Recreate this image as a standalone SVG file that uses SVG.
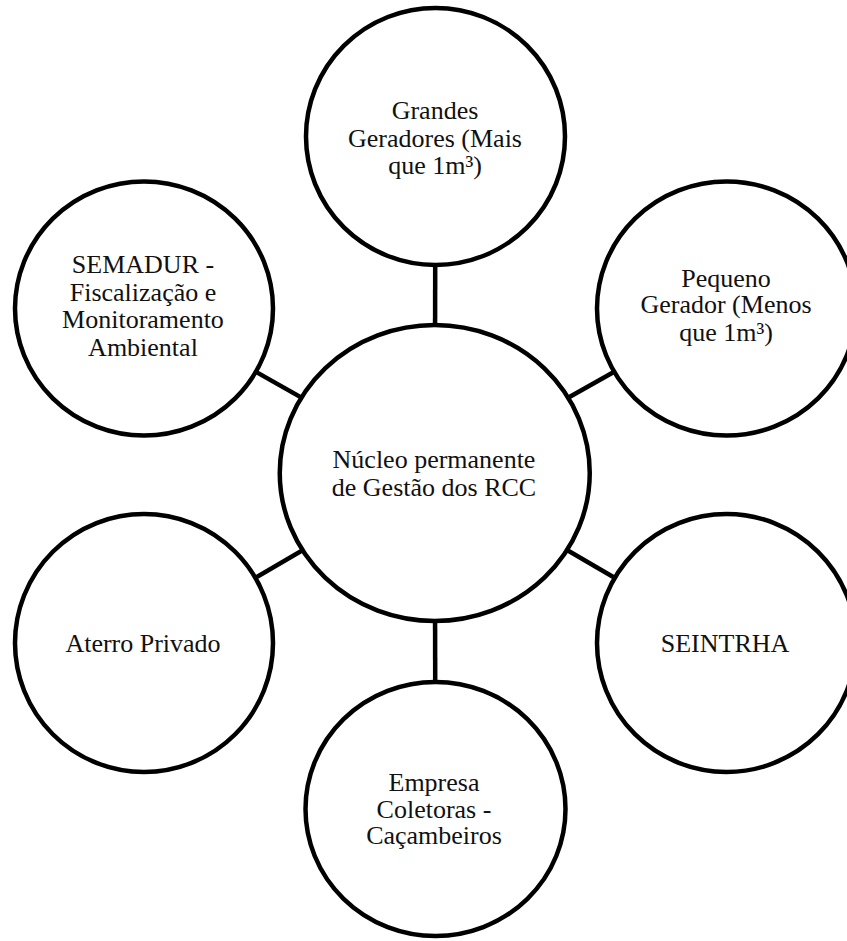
<svg xmlns="http://www.w3.org/2000/svg" width="847" height="941" viewBox="0 0 847 941">
  <style>
    .link { stroke: #000; stroke-width: 4.5; fill: none; }
    .node { fill: #fff; stroke: #000; stroke-width: 4.5; }
    .label { font-family: "Liberation Serif", "Times New Roman", serif; font-size: 26px; fill: #111; text-anchor: middle; }
  </style>
  <rect width="847" height="941" fill="#fff"/>

  <!-- spokes from the hub to each satellite (drawn center to center, hidden under node fills) -->
  <g id="connectors">
    <line class="link" x1="434.75" y1="473" x2="435.5" y2="136.5"/>
    <line class="link" x1="434.75" y1="473" x2="726.5" y2="308.5"/>
    <line class="link" x1="434.75" y1="473" x2="726.5" y2="643"/>
    <line class="link" x1="434.75" y1="473" x2="435.5" y2="809"/>
    <line class="link" x1="434.75" y1="473" x2="144" y2="643"/>
    <line class="link" x1="434.75" y1="473" x2="144" y2="308.5"/>
  </g>

  <g id="nucleo">
    <ellipse class="node" cx="434.75" cy="473" rx="155" ry="148"/>
    <text class="label" x="434" y="468.3">Núcleo permanente</text>
    <text class="label" x="434" y="495.7">de Gestão dos RCC</text>
  </g>

  <g id="grandes-geradores">
    <ellipse class="node" cx="435.5" cy="136.5" rx="129.5" ry="128.5"/>
    <text class="label" x="435" y="119">Grandes</text>
    <text class="label" x="435" y="146.7">Geradores (Mais</text>
    <text class="label" x="435" y="174.3">que 1m³)</text>
  </g>

  <g id="pequeno-gerador">
    <ellipse class="node" cx="726.5" cy="308.5" rx="129.5" ry="127"/>
    <text class="label" x="726" y="286.7">Pequeno</text>
    <text class="label" x="726" y="313.3">Gerador (Menos</text>
    <text class="label" x="726" y="341">que 1m³)</text>
  </g>

  <g id="seintrha">
    <ellipse class="node" cx="726.5" cy="643" rx="129.5" ry="129"/>
    <text class="label" x="725" y="651.7">SEINTRHA</text>
  </g>

  <g id="empresa-coletoras">
    <ellipse class="node" cx="435.5" cy="809" rx="130" ry="127"/>
    <text class="label" x="434" y="790.5">Empresa</text>
    <text class="label" x="434" y="817.5">Coletoras -</text>
    <text class="label" x="434" y="844">Caçambeiros</text>
  </g>

  <g id="aterro-privado">
    <ellipse class="node" cx="144" cy="643" rx="129" ry="129"/>
    <text class="label" x="143" y="651.7">Aterro Privado</text>
  </g>

  <g id="semadur">
    <ellipse class="node" cx="144" cy="308.5" rx="129" ry="127"/>
    <text class="label" x="143" y="273.3">SEMADUR -</text>
    <text class="label" x="143" y="300.7">Fiscalização e</text>
    <text class="label" x="143" y="328.3">Monitoramento</text>
    <text class="label" x="143" y="355.7">Ambiental</text>
  </g>
</svg>
